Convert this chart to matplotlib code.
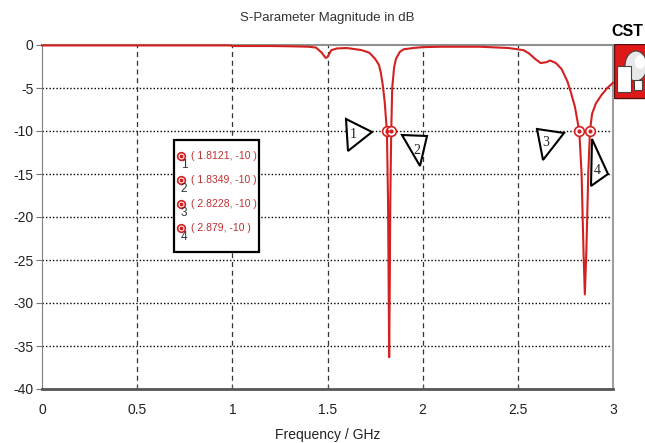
import numpy as np
import matplotlib
matplotlib.use('Agg')
from matplotlib import pyplot as plt
from matplotlib.patches import Polygon, Rectangle, Ellipse

plt.rcParams['font.family'] = ['Liberation Sans', 'DejaVu Sans']

# S11 curve (GHz, dB)
freq = [0.0, 0.5, 0.99, 1.0, 1.2, 1.3, 1.40, 1.44, 1.47, 1.49, 1.50, 1.52, 1.55, 1.60,
        1.65, 1.68, 1.72, 1.75, 1.77, 1.78, 1.79, 1.80, 1.8121, 1.818, 1.822, 1.824,
        1.827, 1.830, 1.8349, 1.84, 1.85, 1.86, 1.88, 1.90, 1.95, 2.0, 2.1, 2.2, 2.3,
        2.4, 2.45, 2.5, 2.53, 2.56, 2.59, 2.62, 2.65, 2.67, 2.70, 2.73, 2.76, 2.78,
        2.80, 2.8228, 2.835, 2.845, 2.852, 2.86, 2.87, 2.879, 2.89, 2.91, 2.94, 2.97, 3.0]
s11 = [-0.05, -0.05, -0.05, -0.12, -0.12, -0.15, -0.2, -0.3, -0.9, -1.5, -1.4, -0.6, -0.4, -0.35,
       -0.5, -0.6, -0.9, -1.6, -2.3, -3.2, -4.6, -6.5, -10, -18, -30, -36.3,
       -28, -18, -10, -5.0, -2.6, -1.6, -0.8, -0.5, -0.35, -0.25, -0.2, -0.2, -0.2,
       -0.3, -0.35, -0.5, -0.6, -1.0, -1.6, -2.1, -2.0, -1.8, -2.1, -2.8, -4.2, -5.6,
       -7.2, -10, -15, -24, -29, -24, -15, -10, -8.0, -6.8, -5.8, -5.0, -4.4]

# markers
mk_freq = [1.8121, 1.8349, 2.8228, 2.879]
mk_val = [-10, -10, -10, -10]
mk_labels = ['( 1.8121, -10 )', '( 1.8349, -10 )', '( 2.8228, -10 )', '( 2.879, -10 )']

xticks = [0, 0.5, 1, 1.5, 2, 2.5, 3]
xticklabels = ['0', '0.5', '1', '1.5', '2', '2.5', '3']
yticks = [0, -5, -10, -15, -20, -25, -30, -35, -40]

W, H = 645, 443
fig = plt.figure(figsize=(W / 100, H / 100), dpi=100)
ax = fig.add_axes([42 / W, 1 - 389 / H, (613 - 42) / W, (389 - 45) / H])

red = '#d42020'

for y in yticks[1:-1]:
    ax.axhline(y, color='black', lw=1, ls=(0, (1, 1.5)), zorder=1)
for x in xticks[1:-1]:
    ax.axvline(x, color='#333333', lw=0.9, ls=(0, (4, 3)), zorder=1)

ax.plot(freq, s11, color=red, lw=1.5, zorder=3, clip_on=False)

ax.plot(mk_freq, mk_val, 'o', ms=7, mfc='white', mec=red, mew=1.2, zorder=4)
ax.plot(mk_freq, mk_val, 'o', ms=2, color=red, zorder=5)

ax.set_xlim(0, 3)
ax.set_ylim(-40, 0)
ax.set_xticks(xticks)
ax.set_xticklabels(xticklabels)
ax.set_yticks(yticks)
ax.set_yticklabels([str(v) for v in yticks])
ax.tick_params(axis='both', labelsize=10, colors='#222222')
ax.tick_params(axis='y', length=4, color='#777777', pad=2)
ax.tick_params(axis='x', length=3, direction='in', color='#555555', pad=10)

ax.spines['left'].set_color('#808080')
ax.spines['bottom'].set_color('#555555')
ax.spines['bottom'].set_linewidth(2)
ax.spines['top'].set_color('#909090')
ax.spines['top'].set_linewidth(1.5)
ax.spines['right'].set_color('#a0a0a0')
ax.spines['right'].set_linewidth(1.5)

ax.set_title('S-Parameter Magnitude in dB', fontsize=9.5, color='#333333', pad=17)
ax.set_xlabel('Frequency / GHz', fontsize=10, color='#222222', labelpad=8)


def fp(px, py):
    return (px / W, 1 - py / H)


# triangle flags with numbers
tris = [
    ([(346, 119), (372, 132), (348, 151)], (353, 134), '1'),
    ([(402, 135), (427, 136), (420, 166)], (417, 150), '2'),
    ([(537, 129), (564, 133), (543, 160)], (546, 142), '3'),
    ([(592, 139), (608, 174), (591, 186)], (597, 170), '4'),
]
for pts, lp, lab in tris:
    poly = Polygon([fp(*p) for p in pts], closed=True, fill=True, fc='white',
                   ec='black', lw=1.5, transform=fig.transFigure, zorder=6)
    fig.patches.append(poly)
    fig.text(*fp(*lp), lab, fontsize=10, ha='center', va='center', color='#222222',
             family=['Liberation Serif', 'DejaVu Serif'], zorder=7)

# marker table box
box = Rectangle(fp(174, 252), (259 - 174) / W, (252 - 140) / H, fc='white', ec='black',
                lw=1.6, transform=fig.transFigure, zorder=6)
fig.patches.append(box)
rows = [156, 180, 204, 228]
for i, (ry, lab) in enumerate(zip(rows, mk_labels)):
    fig.lines.append(plt.Line2D([181 / W], [1 - ry / H], marker='o', ms=5.5, mfc='white',
                                mec=red, mew=1.2, transform=fig.transFigure, zorder=7))
    fig.lines.append(plt.Line2D([181 / W], [1 - ry / H], marker='o', ms=1.8, color=red,
                                transform=fig.transFigure, zorder=8))
    fig.text(*fp(184, ry + 9), str(i + 1), fontsize=8.5, ha='center', va='center',
             color='#333333', zorder=8)
    fig.text(*fp(191, ry), lab, fontsize=7.5, ha='left', va='center', color='#c03030', zorder=8)

# CST logo
fig.text(*fp(611, 31), 'CST', fontsize=11.5, fontweight='bold', ha='left', va='center',
         color='black')
lax = fig.add_axes([614 / W, 1 - 100 / H, 40 / W, 56 / H])
lax.set_xlim(0, 40)
lax.set_ylim(0, 56)
lax.axis('off')
lax.add_patch(Rectangle((0, 2), 40, 54, fc='#e01818', ec='#551111', lw=1))
lax.add_patch(Ellipse((22, 34), 22, 30, fc='#e8e8e8', ec='#444444', lw=0.8))
lax.add_patch(Ellipse((26, 38), 10, 14, fc='white', ec='none'))
lax.add_patch(Rectangle((3, 8), 14, 26, fc='white', ec='#444444', lw=0.8))
lax.add_patch(Rectangle((20, 10), 8, 10, fc='white', ec='#444444', lw=0.8))

fig.savefig('out.png', dpi=100)
